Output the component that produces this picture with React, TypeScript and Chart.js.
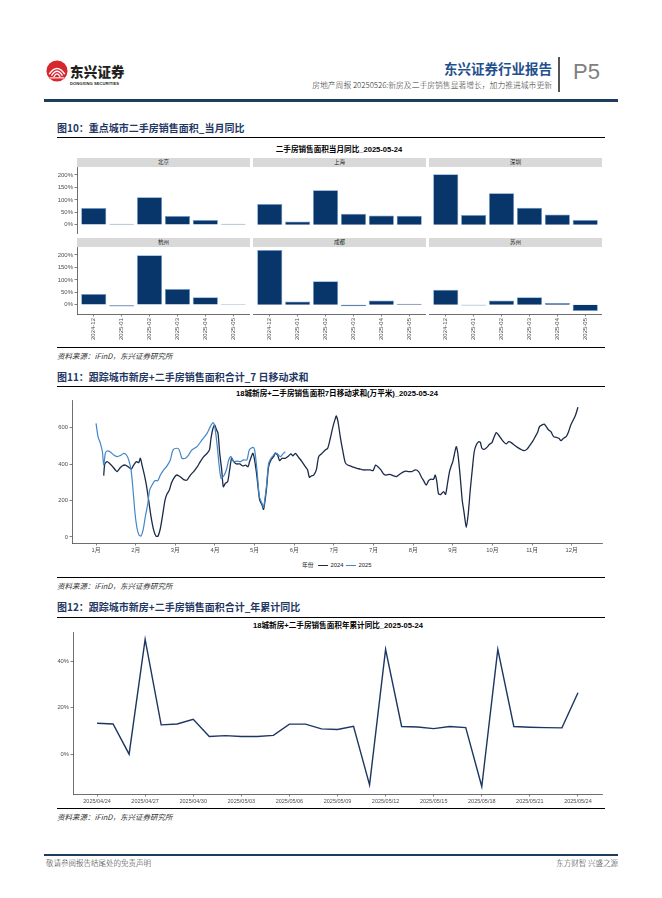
import React, { useEffect, useRef } from 'react';
import { Chart, registerables } from 'chart.js';

Chart.register(...registerables);

// ---------------- Figure 10 data ----------------
const barMonths = ['2024-12', '2025-01', '2025-02', '2025-03', '2025-04', '2025-05'];
const cityNames = ['北京', '上海', '深圳', '杭州', '成都', '苏州'];
const beijingYoY = [67, 4, 111, 35, 19, 4];
const shanghaiYoY = [83, 13, 139, 44, 37, 36];
const shenzhenYoY = [203, 39, 127, 68, 41, 19];
const hangzhouYoY = [43, -7, 199, 63, 30, 3];
const chengduYoY = [220, 13, 94, -6, 17, 4];
const suzhouYoY = [60, -3, 17, 30, 7, -25];
const barYTicks = [0, 50, 100, 150, 200];

// ---------------- Figure 11 data ----------------
const monthTickDays = [0, 30, 60, 90, 120, 150, 180, 210, 240, 270, 300, 330, 360];
const monthTickLabels = ['1月', '2月', '3月', '4月', '5月', '6月', '7月', '7月', '8月', '9月', '10月', '11月', '12月'];
const seriesNames = ['2024', '2025'];
const days2024 = [
  5.8, 6.6, 8.3, 10.3, 12.1, 14.6, 15.9, 17.9, 19.7, 22.2,
  24.7, 26.7, 28.5, 30.5, 32.3, 33.5, 34.8, 36.6, 38.1, 39.8,
  41.6, 43.6, 45.4, 46.9, 48.7, 50.4, 52.2, 53.7, 55.5, 57,
  58.8, 60.8, 62.8, 65.1, 66.8, 68.9, 71.4, 73.9, 76.4, 78.9,
  81.5, 84, 85.8, 87, 88.5, 89.8, 91, 92.3, 93.6, 95.1,
  96.3, 97.9, 99.6, 101.1, 102.6, 104.2, 106.2, 108.7, 111.2, 113.2,
  115, 116.2, 118.8, 121.3, 123.8, 125.6, 126.8, 128.9, 130.6, 132.4,
  134.4, 135.6, 137.4, 138.9, 140.7, 143.2, 145.7, 147.5, 149, 150.8,
  153.3, 155.8, 158.4, 160.1, 161.4, 162.9, 164.7, 166.7, 168.5, 171,
  173.5, 175.3, 177.3, 179.3, 181.1, 181.8, 183.1, 184.8, 186.6, 188.6,
  190.4, 192.4, 194.9, 197.4, 199.9, 202.5, 205, 207.5, 209.6, 211.6,
  213.3, 215.6, 217.6, 219.6, 222.2, 224.7, 227.2, 229, 231.5, 234,
  236.6, 239.1, 241.6, 244.1, 246.1, 247.9, 249.9, 251.7, 253.5, 255.4,
  256.7, 257.9, 259.2, 261, 263, 264.5, 266, 267.5, 268.6, 270,
  271.1, 272.6, 273.8, 275.6, 277.1, 278.6, 280.2, 281.7, 283.2, 284.7,
  286.2, 287.7, 289.5, 290.8, 292, 293.8, 295.8, 297.8, 299.6, 300.9,
  302.9, 304.6, 306.4, 308.4, 310.4, 312.2, 314.2, 316.5, 319, 321.5,
  324, 326, 328, 330.3, 332.4, 334.1, 335.6, 337.4, 339.2, 340.7,
  342.5, 344.2, 346.3, 348.3, 350.3, 351.8, 353.8, 355.8, 357.6, 359.3,
  361.4, 362.9, 364.7,
];
const sum2024 = [
  337, 400, 414, 404, 390, 368, 359, 377, 390, 395,
  383, 373, 395, 414, 408, 432, 395, 340, 285, 203,
  112, 38, 5, 5, 48, 121, 203, 236, 258, 295,
  322, 340, 335, 322, 313, 313, 340, 359, 383, 414,
  441, 459, 478, 542, 597, 615, 591, 569, 459, 368,
  276, 295, 304, 368, 432, 414, 401, 401, 390, 395,
  386, 414, 459, 359, 203, 176, 152, 258, 386, 423,
  441, 459, 450, 419, 432, 432, 445, 456, 445, 459,
  437, 414, 386, 368, 328, 335, 340, 368, 441, 459,
  478, 487, 542, 606, 651, 664, 633, 551, 478, 408,
  395, 390, 383, 377, 373, 368, 368, 368, 364, 395,
  386, 368, 346, 340, 344, 337, 331, 340, 353, 362,
  359, 359, 368, 359, 331, 309, 285, 309, 317, 317,
  340, 304, 236, 234, 249, 234, 295, 359, 386, 414,
  450, 496, 459, 331, 203, 130, 53, 130, 258, 368,
  468, 505, 523, 520, 487, 481, 492, 509, 518, 542,
  573, 560, 542, 523, 511, 523, 518, 505, 492, 481,
  474, 481, 500, 523, 551, 573, 606, 615, 620, 606,
  587, 578, 551, 547, 542, 529, 542, 551, 578, 615,
  646, 670, 712,
];
const days2025 = [
  0, 1.5, 3.3, 4.8, 5.8, 7, 8.3, 10.8, 13.4, 15.9,
  18.4, 21, 23, 24.7, 26.5, 28, 29.5, 31, 32.5, 34,
  35.6, 37.3, 39, 40.6, 42.4, 44.4, 46.7, 48.7, 51.2, 53.7,
  56.2, 58.3, 61.3, 63, 65, 67.6, 70, 72.6, 76.4, 80.2,
  84, 86.5, 88.5, 89.8, 91.5, 93, 94.6, 96.6, 98.6, 100.4,
  102.1, 104.2, 106.7, 109.2, 111.7, 114.2, 116, 118.8, 120, 121.8,
  123.6, 125.6, 126.8, 128.9, 130.6, 132.4, 134.4, 135.6, 137.4, 139.5,
  141.3, 143.2,
];
const sum2025 = [
  624, 551, 514, 468, 395, 459, 472, 467, 450, 441,
  447, 459, 450, 423, 368, 258, 130, 48, 11, 5,
  38, 112, 176, 258, 285, 309, 309, 340, 368, 390,
  423, 478, 487, 478, 432, 432, 450, 478, 496, 533,
  569, 606, 628, 606, 514, 404, 322, 335, 368, 423,
  441, 414, 417, 414, 423, 423, 478, 492, 478, 368,
  221, 185, 163, 276, 404, 432, 450, 462, 455, 441,
  455, 468,
];
const sumYTicks = [0, 200, 400, 600];

// ---------------- Figure 12 data ----------------
const ytdDates = [
  '2025/04/24', '2025/04/25', '2025/04/26', '2025/04/27', '2025/04/28', '2025/04/29', '2025/04/30',
  '2025/05/01', '2025/05/02', '2025/05/03', '2025/05/04', '2025/05/05', '2025/05/06', '2025/05/07',
  '2025/05/08', '2025/05/09', '2025/05/10', '2025/05/11', '2025/05/12', '2025/05/13', '2025/05/14',
  '2025/05/15', '2025/05/16', '2025/05/17', '2025/05/18', '2025/05/19', '2025/05/20', '2025/05/21',
  '2025/05/22', '2025/05/23', '2025/05/24',
];
const ytdYoY = [
  13.3, 13.0, 0.0, 49.3, 12.6, 13.0, 15.0, 7.6, 8.0, 7.6,
  7.6, 8.1, 12.9, 12.9, 10.9, 10.6, 12.0, -13.2, 45.0, 11.9,
  11.7, 11.0, 11.9, 11.4, -13.9, 45.0, 11.9, 11.6, 11.4, 11.3,
  26.4,
];
const ytdTickIdx = [0, 3, 6, 9, 12, 15, 18, 21, 24, 27, 30];
const ytdYTicks = [0, 20, 40];

// ---------------- styling ----------------
const FONT_SANS = '"Liberation Sans", "Noto Sans CJK SC", sans-serif';
const FONT_CJK = '"Noto Sans CJK SC", "Liberation Sans", sans-serif';
const TICK_COLOR = '#4d4d4d';
const AXIS_COLOR = '#4a4a4a';
const BAR_FILL = '#08356a';
const BAR_EDGE = '#6f9fd3';
const C2024 = '#1b2a48';
const C2025 = '#4286c8';
const HEAD_BLUE = '#1f3864';

Chart.defaults.font.family = FONT_SANS;

const zeroPad = (s: any) => {
  s.paddingLeft = 0;
  s.paddingRight = 0;
  s.paddingTop = 0;
  s.paddingBottom = 0;
};

function axisCommon(size: number) {
  return {
    grid: { display: true, drawOnChartArea: false, drawTicks: true, tickLength: 2.5, color: AXIS_COLOR, lineWidth: 0.7 },
    border: { display: true, color: AXIS_COLOR, width: 0.8 },
    ticks: { color: TICK_COLOR, font: { size, family: FONT_SANS }, padding: 1.5, autoSkip: false },
  };
}

function facetConfig(values: number[], showY: boolean, showX: boolean) {
  const xc = axisCommon(6);
  const yc = axisCommon(6);
  return {
    type: 'bar',
    data: {
      datasets: [
        {
          data: values.map((v, i) => ({ x: i, y: v })),
          backgroundColor: BAR_FILL,
          borderColor: BAR_EDGE,
          borderWidth: 0.7,
          categoryPercentage: 1,
          barPercentage: 0.9,
        },
      ],
    },
    options: {
      animation: false,
      responsive: false,
      devicePixelRatio: 1,
      events: [],
      layout: { padding: 0 },
      plugins: { legend: { display: false }, tooltip: { enabled: false }, title: { display: false } },
      scales: {
        x: {
          type: 'linear',
          min: -0.6,
          max: 5.6,
          offset: false,
          display: showX,
          grid: { ...xc.grid, offset: false },
          border: xc.border,
          ticks: {
            ...xc.ticks,
            minRotation: 90,
            maxRotation: 90,
            callback: (_v: any, i: number) => barMonths[i],
          },
          afterBuildTicks: (s: any) => {
            s.ticks = barMonths.map((_m, i) => ({ value: i }));
          },
          afterFit: (s: any) => {
            if (showX) s.height = 26;
            else s.height = 0;
            zeroPad(s);
          },
        },
        y: {
          type: 'linear',
          min: -37,
          max: 232,
          display: showY,
          grid: yc.grid,
          border: yc.border,
          ticks: { ...yc.ticks, callback: (v: any) => `${v}%` },
          afterBuildTicks: (s: any) => {
            s.ticks = barYTicks.map((v) => ({ value: v }));
          },
          afterFit: (s: any) => {
            if (showY) s.width = 32;
            else s.width = 0;
            zeroPad(s);
          },
        },
      },
    },
  };
}

function movingSumConfig() {
  const xc = axisCommon(5.8);
  const yc = axisCommon(5.8);
  return {
    type: 'line',
    data: {
      datasets: [
        {
          label: seriesNames[1],
          data: days2025.map((d, i) => ({ x: d, y: sum2025[i] })),
          borderColor: C2025,
          borderWidth: 1.2,
          pointRadius: 0,
          tension: 0.25,
          fill: false,
        },
        {
          label: seriesNames[0],
          data: days2024.map((d, i) => ({ x: d, y: sum2024[i] })),
          borderColor: C2024,
          borderWidth: 1.3,
          pointRadius: 0,
          tension: 0.25,
          fill: false,
        },
      ],
    },
    options: {
      animation: false,
      responsive: false,
      devicePixelRatio: 1,
      events: [],
      layout: { padding: { top: 4, right: 8, left: 0, bottom: 0 } },
      plugins: { legend: { display: false }, tooltip: { enabled: false } },
      scales: {
        x: {
          type: 'linear',
          min: -18.2,
          max: 382.9,
          ...xc,
          ticks: { ...xc.ticks, maxRotation: 0, minRotation: 0, callback: (_v: any, i: number) => monthTickLabels[i] },
          afterBuildTicks: (s: any) => {
            s.ticks = monthTickDays.map((v) => ({ value: v }));
          },
          afterFit: (s: any) => {
            s.height = 13;
            zeroPad(s);
          },
        },
        y: {
          type: 'linear',
          min: -33,
          max: 752,
          ...yc,
          afterBuildTicks: (s: any) => {
            s.ticks = sumYTicks.map((v) => ({ value: v }));
          },
          afterFit: (s: any) => {
            s.width = 32;
            zeroPad(s);
          },
        },
      },
    },
  };
}

function ytdConfig() {
  const xc = axisCommon(5.5);
  const yc = axisCommon(5.8);
  return {
    type: 'line',
    data: {
      datasets: [
        {
          label: 'ytd',
          data: ytdYoY.map((v, i) => ({ x: i, y: v })),
          borderColor: '#1c3762',
          borderWidth: 1.4,
          pointRadius: 0,
          tension: 0,
          fill: false,
        },
      ],
    },
    options: {
      animation: false,
      responsive: false,
      devicePixelRatio: 1,
      events: [],
      layout: { padding: { top: 4, right: 8, left: 0, bottom: 0 } },
      plugins: { legend: { display: false }, tooltip: { enabled: false } },
      scales: {
        x: {
          type: 'linear',
          min: -1.5,
          max: 31.5,
          ...xc,
          ticks: { ...xc.ticks, maxRotation: 0, minRotation: 0, callback: (v: any) => ytdDates[v] },
          afterBuildTicks: (s: any) => {
            s.ticks = ytdTickIdx.map((v) => ({ value: v }));
          },
          afterFit: (s: any) => {
            s.height = 14;
            zeroPad(s);
          },
        },
        y: {
          type: 'linear',
          min: -17.1,
          max: 52.5,
          ...yc,
          ticks: { ...yc.ticks, callback: (v: any) => `${v}%` },
          afterBuildTicks: (s: any) => {
            s.ticks = ytdYTicks.map((v) => ({ value: v }));
          },
          afterFit: (s: any) => {
            s.width = 33;
            zeroPad(s);
          },
        },
      },
    },
  };
}

function ChartBox({ left, top, width, height, make }: any) {
  const ref = useRef<HTMLCanvasElement | null>(null);
  useEffect(() => {
    if (!ref.current) return;
    const chart = new Chart(ref.current, make());
    return () => chart.destroy();
  }, []);
  return (
    <canvas
      ref={ref}
      width={width}
      height={height}
      style={{ position: 'absolute', left, top, width, height }}
    />
  );
}

function Txt({ x, y, size, children, align = 'left', color = '#000', weight = 400, family = FONT_CJK, italic = false, spacing = 0 }: any) {
  const style: any = {
    position: 'absolute',
    top: y - size * 0.6,
    fontSize: size,
    lineHeight: `${size * 1.2}px`,
    color,
    fontWeight: weight,
    fontFamily: family,
    whiteSpace: 'nowrap',
    fontStyle: italic ? 'italic' : 'normal',
    letterSpacing: spacing,
  };
  if (align === 'left') style.left = x;
  else if (align === 'right') style.right = 662 - x;
  else {
    style.left = x;
    style.transform = 'translateX(-50%)';
  }
  return <div style={style}>{children}</div>;
}

function Rule({ x, y, w, h = 1, color = '#000' }: any) {
  return <div style={{ position: 'absolute', left: x, top: y, width: w, height: h, background: color }} />;
}

function Logo() {
  return (
    <svg style={{ position: 'absolute', left: 46, top: 60 }} width={22} height={22} viewBox="0 0 24 24">
      <circle cx="12" cy="12" r="11.5" fill="#d7262d" />
      <path d="M3.5 15.5 Q12 3 20.5 15.5" stroke="#fff" strokeWidth="1.6" fill="none" />
      <path d="M6 17 Q12 7.5 18 17" stroke="#fff" strokeWidth="1.5" fill="none" />
      <path d="M8.5 18.5 Q12 12 15.5 18.5" stroke="#fff" strokeWidth="1.4" fill="none" />
      <path d="M4 19.5 L20 19.5" stroke="#fff" strokeWidth="1.2" />
    </svg>
  );
}

const facetValues = [beijingYoY, shanghaiYoY, shenzhenYoY, hangzhouYoY, chengduYoY, suzhouYoY];
const facetColLeft = [77, 253, 429];
const facetRowTop = [167, 247];
const FACET_W = 173;
const FACET_H = 67;

function Fig10() {
  const items: any[] = [];
  facetValues.forEach((vals, k) => {
    const col = k % 3;
    const row = Math.floor(k / 3);
    const showY = col === 0;
    const showX = row === 1;
    const left = showY ? facetColLeft[col] - 32 : facetColLeft[col];
    const width = showY ? FACET_W + 32 : FACET_W;
    const height = showX ? FACET_H + 26 : FACET_H;
    items.push(
      <div
        key={`strip${k}`}
        style={{
          position: 'absolute',
          left: facetColLeft[col],
          top: facetRowTop[row] - 9,
          width: FACET_W,
          height: 9,
          background: '#d9d9d9',
        }}
      >
        <div style={{ textAlign: 'center', fontSize: 5.5, lineHeight: '9px', color: '#1a1a1a', fontFamily: FONT_CJK }}>
          {cityNames[k]}
        </div>
      </div>
    );
    items.push(
      <ChartBox
        key={`facet${k}`}
        left={left}
        top={facetRowTop[row]}
        width={width}
        height={height}
        make={() => facetConfig(vals, showY, showX)}
      />
    );
  });
  return <>{items}</>;
}

function Legend11() {
  return (
    <>
      <Txt x={302} y={565} size={5.8} family={FONT_SANS} color="#1a1a1a">年份</Txt>
      <Rule x={318} y={564.5} w={10} h={1.3} color={C2024} />
      <Txt x={330.5} y={565} size={5.8} family={FONT_SANS} color="#1a1a1a">{seriesNames[0]}</Txt>
      <Rule x={346} y={564.5} w={10} h={1.3} color={C2025} />
      <Txt x={358.5} y={565} size={5.8} family={FONT_SANS} color="#1a1a1a">{seriesNames[1]}</Txt>
    </>
  );
}

export default function App() {
  return (
    <div
      style={{
        position: 'absolute',
        left: 0,
        top: 0,
        width: 662,
        height: 898,
        background: '#fff',
        overflow: 'hidden',
        fontFamily: FONT_CJK,
      }}
    >
      {/* header */}
      <Logo />
      <Txt x={70} y={71} size={13.5} weight={900} color="#231f20" spacing={0.2}>东兴证券</Txt>
      <Txt x={70} y={84.5} size={4.1} weight={700} family={FONT_SANS} color="#231f20" spacing={0.05}>DONGXING SECURITIES</Txt>
      <Txt x={552} y={68} size={13.5} weight={700} align="right" color="#1f4f8f">东兴证券行业报告</Txt>
      <Txt x={552} y={85} size={7.8} weight={300} align="right" color="#333">
        房地产周报 20250526:新房及二手房销售显著增长，加力推进城市更新
      </Txt>
      <Rule x={558} y={57} w={1.5} h={35} color="#555" />
      <Txt x={573} y={72.5} size={22} family={FONT_SANS} color="#808080">P5</Txt>
      <Rule x={44} y={99} w={574} h={2.5} color="#1e3c5c" />

      {/* figure 10 */}
      <Txt x={57} y={128} size={10} weight={700} color={HEAD_BLUE}>图10：重点城市二手房销售面积_当月同比</Txt>
      <Rule x={57} y={137} w={548} h={1} />
      <Txt x={339} y={150} size={7.6} weight={700} align="center" family={FONT_SANS}>二手房销售面积当月同比_2025-05-24</Txt>
      <Fig10 />
      <Rule x={57} y={347} w={548} h={1} />
      <Txt x={57} y={355.5} size={7.5} italic color="#333">资料来源：iFinD，东兴证券研究所</Txt>

      {/* figure 11 */}
      <Txt x={57} y={377} size={10} weight={700} color={HEAD_BLUE}>图11：跟踪城市新房+二手房销售面积合计_7 日移动求和</Txt>
      <Rule x={57} y={386} w={548} h={1} />
      <Txt x={337} y={394} size={7.6} weight={700} align="center" family={FONT_SANS}>18城新房+二手房销售面积7日移动求和(万平米)_2025-05-24</Txt>
      <ChartBox left={40} top={396} width={570} height={160} make={movingSumConfig} />
      <Legend11 />
      <Rule x={57} y={577} w={548} h={1} />
      <Txt x={57} y={585.5} size={7.5} italic color="#333">资料来源：iFinD，东兴证券研究所</Txt>

      {/* figure 12 */}
      <Txt x={57} y={607} size={10} weight={700} color={HEAD_BLUE}>图12：跟踪城市新房+二手房销售面积合计_年累计同比</Txt>
      <Rule x={57} y={617} w={548} h={1} />
      <Txt x={338} y={625.5} size={7.6} weight={700} align="center" family={FONT_SANS}>18城新房+二手房销售面积年累计同比_2025-05-24</Txt>
      <ChartBox left={40} top={628} width={570} height={180} make={ytdConfig} />
      <Rule x={57} y={808} w={548} h={1} />
      <Txt x={57} y={816.5} size={7.5} italic color="#333">资料来源：iFinD，东兴证券研究所</Txt>

      {/* footer */}
      <Rule x={44} y={854} w={574} h={1.5} color="#1e3c5c" />
      <Txt x={46} y={862} size={7.5} weight={300} color="#333">敬请参阅报告结尾处的免责声明</Txt>
      <Txt x={618} y={862} size={7.5} weight={300} align="right" color="#333">东方财智 兴盛之源</Txt>
    </div>
  );
}
